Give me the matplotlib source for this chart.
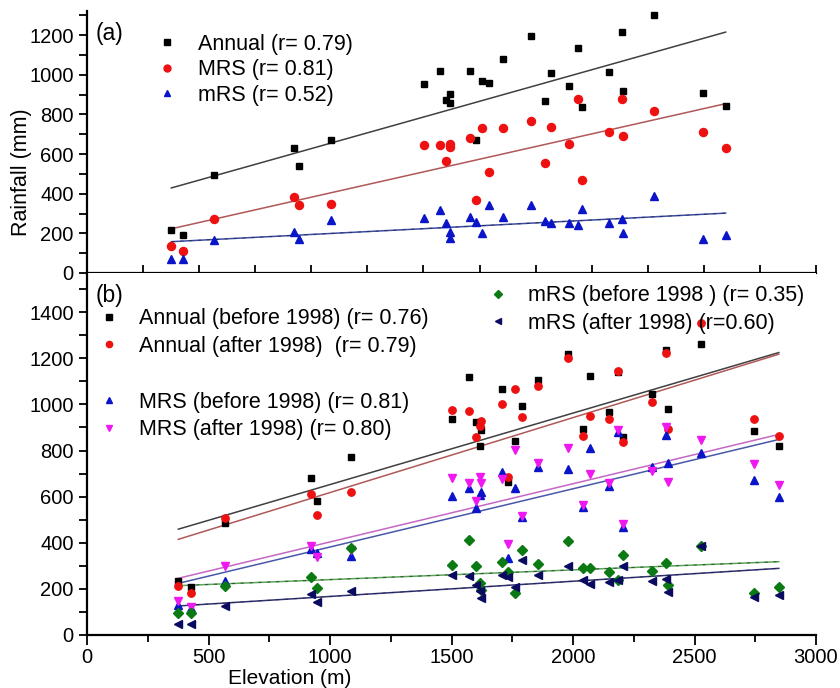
import matplotlib
matplotlib.use("Agg")
import matplotlib.pyplot as plt
from matplotlib.lines import Line2D
from matplotlib.ticker import MultipleLocator

plt.rcParams['font.family'] = ['Liberation Sans', 'DejaVu Sans']

# ---------------- data ----------------
elevation = [376, 430, 568, 922, 945, 1088, 1503, 1574, 1599, 1617, 1620, 1709, 1733, 1761,
             1791, 1856, 1981, 2041, 2069, 2147, 2187, 2207, 2325, 2383, 2389, 2528, 2746, 2847]

# panel (a)
annual = [219, 192, 496, 633, 540, 672, 952, 1018, 874, 905, 859, 1018, 672, 970,
          957, 1078, 1197, 866, 1008, 942, 1136, 839, 1014, 1215, 918, 1303, 910, 840]
mrs_max = [138, 111, 272, 385, 343, 349, 645, 645, 565, 651, 638, 680, 368, 733,
           510, 731, 766, 555, 734, 650, 878, 471, 712, 879, 692, 815, 712, 628]
mrs_min = [71, 71, 166, 209, 169, 268, 278, 319, 253, 206, 179, 282, 258, 201,
           343, 282, 343, 262, 253, 250, 240, 321, 253, 272, 204, 386, 174, 191]

# panel (b)
annual_before = [234, 208, 487, 679, 580, 770, 938, 1120, 922, 821, 890, 1065, 662, 842,
                 993, 1105, 1217, 892, 1124, 966, 1141, 860, 1045, 1235, 980, 1260, 884, 821]
annual_after = [214, 181, 506, 612, 520, 619, 974, 971, 857, 906, 926, 1004, 686, 1065,
                944, 1079, 1201, 863, 949, 938, 1146, 838, 1011, 1221, 892, 1351, 936, 864]
mrs_before = [128, 115, 236, 375, 354, 342, 604, 636, 552, 607, 621, 708, 335, 636,
              510, 730, 718, 556, 809, 648, 881, 467, 730, 867, 744, 788, 672, 597]
mrs_after = [149, 120, 299, 385, 340, 368, 679, 658, 581, 686, 658, 675, 393, 802,
             517, 744, 809, 562, 697, 658, 889, 481, 712, 900, 665, 845, 741, 652]
mrsmin_before = [94, 94, 212, 253, 205, 376, 302, 410, 299, 224, 195, 316, 272, 181,
                 368, 308, 406, 289, 289, 272, 240, 347, 278, 314, 217, 386, 183, 209]
mrsmin_after = [48, 46, 127, 176, 144, 192, 260, 256, 218, 190, 162, 262, 250, 210,
                325, 260, 298, 240, 222, 229, 237, 299, 234, 245, 188, 386, 163, 173]

# fitted regression lines (end points)
fit_x = [376, 2847]
fit_a = {'annual': [429, 1215], 'mrs_max': [223, 854], 'mrs_min': [158, 302]}
fit_b = {'annual_before': [459, 1225], 'annual_after': [415, 1218],
         'mrs_before': [224, 848], 'mrs_after': [246, 870],
         'mrsmin_before': [214, 318], 'mrsmin_after': [126, 289]}

labels_a = ['Annual (r= 0.79)', 'MRS (r= 0.81)', 'mRS (r= 0.52)']
labels_b = ['Annual (before 1998) (r= 0.76)', 'Annual (after 1998)  (r= 0.79)',
            'MRS (before 1998) (r= 0.81)', 'MRS (after 1998) (r= 0.80)',
            'mRS (before 1998 ) (r= 0.35)', 'mRS (after 1998) (r=0.60)']

# ---------------- styles ----------------
C_BLACK = '#000000'
C_RED = '#ee1111'
C_BLUE = '#0a14c8'
C_MAG = '#f018f0'
C_GREEN = '#0b7a12'
C_NAVY = '#0a0a60'

FS_TICK = 14.5
FS_LEG = 15.5

fig = plt.figure(figsize=(8.4, 6.88), dpi=100)
W, H = 840, 688
L, R = 87, 816
ax_a = fig.add_axes([L / W, (H - 273) / H, (R - L) / W, (273 - 11.3) / H])
ax_b = fig.add_axes([L / W, (H - 635) / H, (R - L) / W, (635 - 273) / H])


def style_axis(ax):
    for s in ['top', 'right']:
        ax.spines[s].set_visible(False)
    for s in ['left', 'bottom']:
        ax.spines[s].set_linewidth(1.6)


def fitline(ax, xs, ys, color, dashed_overlay=False):
    ax.plot(xs, ys, color=color, lw=1.1, zorder=2)
    if dashed_overlay:
        ax.plot(xs, ys, color='#202020', lw=0.8, ls=(0, (3, 5)), alpha=0.6, zorder=2)


# ---------------- panel (a) ----------------
ax = ax_a
style_axis(ax)
ax.set_xlim(0, 3250)
ax.set_ylim(0, 1320)
fitline(ax, fit_x, fit_a['annual'], '#404040')
fitline(ax, fit_x, fit_a['mrs_max'], '#b05858')
fitline(ax, fit_x, fit_a['mrs_min'], '#3c4ca8', dashed_overlay=True)
ax.plot(elevation, annual, 's', color=C_BLACK, ms=5, ls='none', zorder=3)
ax.plot(elevation, mrs_max, 'o', color=C_RED, ms=5.8, ls='none', zorder=3)
ax.plot(elevation, mrs_min, '^', color=C_BLUE, ms=6.3, ls='none', zorder=3)
ax.xaxis.set_major_locator(MultipleLocator(250))
ax.tick_params(axis='x', direction='in', length=6, width=1.3, labelbottom=False)
ax.yaxis.set_major_locator(MultipleLocator(200))
ax.yaxis.set_minor_locator(MultipleLocator(100))
ax.tick_params(axis='y', which='major', direction='out', length=6, width=1.3, labelsize=FS_TICK)
ax.tick_params(axis='y', which='minor', direction='out', length=6, width=1.3)
ax.text(0.012, 0.917, '(a)', transform=ax.transAxes, fontsize=16.5, va='center', ha='left')
handles_a = [Line2D([], [], marker='s', color=C_BLACK, ls='none', ms=4),
             Line2D([], [], marker='o', color=C_RED, ls='none', ms=5),
             Line2D([], [], marker='^', color=C_BLUE, ls='none', ms=5)]
ax.legend(handles_a, labels_a, loc='upper left', bbox_to_anchor=(0.0956, 0.915),
          frameon=False, fontsize=FS_LEG, handlelength=1.0, handletextpad=0.9,
          labelspacing=0.22, borderpad=0, borderaxespad=0)

# ---------------- panel (b) ----------------
ax = ax_b
style_axis(ax)
ax.set_xlim(0, 3000)
ax.set_ylim(0, 1570)
fitline(ax, fit_x, fit_b['annual_before'], '#404040')
fitline(ax, fit_x, fit_b['annual_after'], '#b05858')
fitline(ax, fit_x, fit_b['mrs_after'], '#c468c4')
fitline(ax, fit_x, fit_b['mrs_before'], '#4858a8')
fitline(ax, fit_x, fit_b['mrsmin_before'], '#58a858', dashed_overlay=True)
fitline(ax, fit_x, fit_b['mrsmin_after'], '#303078', dashed_overlay=True)
ax.plot(elevation, annual_before, 's', color=C_BLACK, ms=4.6, ls='none', zorder=3)
ax.plot(elevation, annual_after, 'o', color=C_RED, ms=5.3, ls='none', zorder=3)
ax.plot(elevation, mrs_before, '^', color=C_BLUE, ms=5.8, ls='none', zorder=3)
ax.plot(elevation, mrs_after, 'v', color=C_MAG, ms=5.8, ls='none', zorder=3)
ax.plot(elevation, mrsmin_before, 'D', color=C_GREEN, ms=4.6, ls='none', zorder=3)
ax.plot(elevation, mrsmin_after, '<', color=C_NAVY, ms=5.8, ls='none', zorder=3)
ax.xaxis.set_major_locator(MultipleLocator(500))
ax.xaxis.set_minor_locator(MultipleLocator(250))
ax.tick_params(axis='x', which='major', direction='out', length=7, width=1.3,
               labelsize=FS_TICK, pad=2.5)
ax.tick_params(axis='x', which='minor', direction='out', length=5, width=1.3)
ax.yaxis.set_major_locator(MultipleLocator(200))
ax.yaxis.set_minor_locator(MultipleLocator(100))
ax.tick_params(axis='y', which='major', direction='out', length=6, width=1.3, labelsize=FS_TICK)
ax.tick_params(axis='y', which='minor', direction='out', length=6, width=1.3)
ax.set_xlabel('Elevation (m)', fontsize=15)
ax.xaxis.set_label_coords((290 - L) / (R - L), -0.093)
ax.text(0.012, 0.939, '(b)', transform=ax.transAxes, fontsize=16.5, va='center', ha='left')

leg_kw = dict(loc='upper left', frameon=False, fontsize=FS_LEG, handlelength=1.0,
              handletextpad=0.9, labelspacing=0.3, borderpad=0, borderaxespad=0)
h1 = [Line2D([], [], marker='s', color=C_BLACK, ls='none', ms=3.8),
      Line2D([], [], marker='o', color=C_RED, ls='none', ms=4.5)]
h2 = [Line2D([], [], marker='^', color=C_BLUE, ls='none', ms=4.5),
      Line2D([], [], marker='v', color=C_MAG, ls='none', ms=4.5)]
h3 = [Line2D([], [], marker='D', color=C_GREEN, ls='none', ms=3.6),
      Line2D([], [], marker='<', color=C_NAVY, ls='none', ms=4.5)]
lg1 = ax.legend(h1, labels_b[0:2], bbox_to_anchor=(0.0151, 0.902), **leg_kw)
ax.add_artist(lg1)
lg2 = ax.legend(h2, labels_b[2:4], bbox_to_anchor=(0.0151, 0.672), **leg_kw)
ax.add_artist(lg2)
lg3 = ax.legend(h3, labels_b[4:6], bbox_to_anchor=(0.5487, 0.966), **leg_kw)

fig.text(22 / W, (H - 172) / H, 'Rainfall (mm)', rotation=90, fontsize=15.5,
         ha='center', va='center')

fig.savefig('out.png', dpi=100)
